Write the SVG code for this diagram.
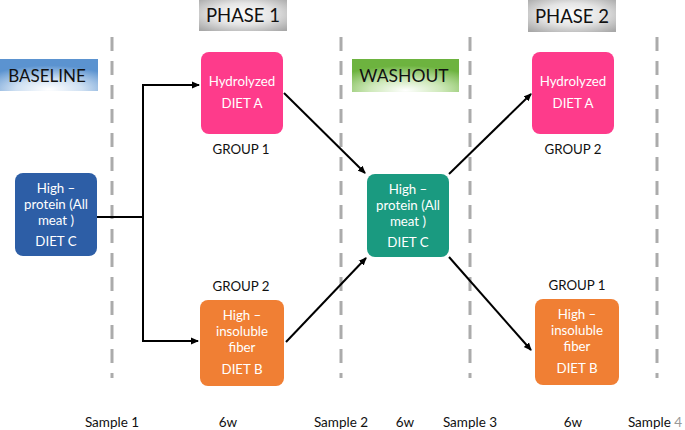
<svg xmlns="http://www.w3.org/2000/svg" width="685" height="430" viewBox="0 0 685 430">
<defs>
<radialGradient id="gGrey" cx="0.5" cy="0.45" r="0.7">
<stop offset="0" stop-color="#ffffff"/><stop offset="0.5" stop-color="#e4e4e4"/><stop offset="1" stop-color="#a8a8a8"/>
</radialGradient>
<radialGradient id="gBlue" cx="0.5" cy="0.95" r="0.75">
<stop offset="0" stop-color="#ffffff"/><stop offset="0.45" stop-color="#cfe0f2"/><stop offset="1" stop-color="#5b93d0"/>
</radialGradient>
<radialGradient id="gGreen" cx="0.5" cy="0.95" r="0.75">
<stop offset="0" stop-color="#ffffff"/><stop offset="0.45" stop-color="#cde8b8"/><stop offset="1" stop-color="#6db33f"/>
</radialGradient>
<marker id="ah" markerWidth="8" markerHeight="8" refX="7" refY="4" orient="auto" markerUnits="userSpaceOnUse">
<path d="M0,0.5 L8,4 L0,7.5 Z" fill="#000"/>
</marker>
</defs>
<style>
.dash{stroke:#ababab;stroke-width:3;stroke-dasharray:14 10;fill:none}
.conn{stroke:#000;stroke-width:2;fill:none}
.t{font-family:Lato,"Open Sans","Liberation Sans",sans-serif}
.lbl{font-size:18.5px;fill:#111;text-anchor:middle}
.bx{font-size:13.3px;fill:#fff;text-anchor:middle}
.grp{font-size:13.3px;fill:#111;text-anchor:middle}
.bot{font-size:13.5px;fill:#111;text-anchor:middle}
</style>
<rect width="685" height="430" fill="#fff"/>
<g id="dividers">
<line class="dash" x1="112" y1="37" x2="112" y2="378"/>
<line class="dash" x1="341" y1="37" x2="341" y2="378"/>
<line class="dash" x1="470" y1="37" x2="470" y2="378"/>
<line class="dash" x1="657" y1="37" x2="657" y2="378"/>
</g>
<g id="phase1"><rect x="199" y="0" width="88" height="31" fill="url(#gGrey)"/><text class="t lbl" x="243" y="22">PHASE 1</text></g>
<g id="phase2"><rect x="528" y="0" width="88" height="32" fill="url(#gGrey)"/><text class="t lbl" x="572" y="23">PHASE 2</text></g>
<g id="baseline"><rect x="0" y="59" width="98" height="32" fill="url(#gBlue)"/><text class="t lbl" x="47" y="82" style="font-size:17px">BASELINE</text></g>
<g id="washout"><rect x="352" y="59" width="107" height="33" fill="url(#gGreen)"/><text class="t lbl" x="404" y="82" style="font-size:17.5px">WASHOUT</text></g>
<g id="connectors">
<polyline class="conn" points="97,217 143,217"/>
<polyline class="conn" points="143,341 143,85 199,85" marker-end="url(#ah)"/>
<polyline class="conn" points="143,217 143,341 198,341" marker-end="url(#ah)"/>
<line class="conn" x1="284" y1="93" x2="365" y2="173" marker-end="url(#ah)"/>
<line class="conn" x1="286" y1="342" x2="366" y2="258" marker-end="url(#ah)"/>
<line class="conn" x1="449" y1="174" x2="531" y2="94" marker-end="url(#ah)"/>
<line class="conn" x1="449" y1="257" x2="531" y2="350" marker-end="url(#ah)"/>
</g>
<g id="dietC1"><rect x="15" y="173" width="82" height="83" rx="8" fill="#2d5ea6"/>
<text class="t bx" x="56" y="193">High –</text><text class="t bx" x="56" y="209">protein (All</text><text class="t bx" x="56" y="225">meat )</text><text class="t bx" x="56" y="246">DIET C</text></g>
<g id="dietA1"><rect x="201" y="52" width="82" height="82" rx="8" fill="#fe3b8b"/>
<text class="t bx" x="242" y="86">Hydrolyzed</text><text class="t bx" x="242" y="108">DIET A</text></g>
<g id="group1a"><text class="t grp" x="241" y="154">GROUP 1</text></g>
<g id="group2a"><text class="t grp" x="241" y="291">GROUP 2</text></g>
<g id="dietB1"><rect x="200" y="300" width="84" height="86" rx="8" fill="#f07f34"/>
<text class="t bx" x="242" y="320">High –</text><text class="t bx" x="242" y="336">insoluble</text><text class="t bx" x="242" y="352">fiber</text><text class="t bx" x="242" y="374">DIET B</text></g>
<g id="dietC2"><rect x="367" y="174" width="82" height="83" rx="8" fill="#1a9a80"/>
<text class="t bx" x="408" y="194">High –</text><text class="t bx" x="408" y="210">protein (All</text><text class="t bx" x="408" y="226">meat )</text><text class="t bx" x="408" y="247">DIET C</text></g>
<g id="dietA2"><rect x="532" y="52" width="82" height="82" rx="8" fill="#fe3b8b"/>
<text class="t bx" x="573" y="86">Hydrolyzed</text><text class="t bx" x="573" y="108">DIET A</text></g>
<g id="group2b"><text class="t grp" x="573" y="154">GROUP 2</text></g>
<g id="group1b"><text class="t grp" x="577" y="290">GROUP 1</text></g>
<g id="dietB2"><rect x="535" y="299" width="84" height="86" rx="8" fill="#f07f34"/>
<text class="t bx" x="577" y="319">High –</text><text class="t bx" x="577" y="335">insoluble</text><text class="t bx" x="577" y="351">fiber</text><text class="t bx" x="577" y="373">DIET B</text></g>
<g id="timeline">
<text class="t bot" x="112" y="427">Sample 1</text>
<text class="t bot" x="228" y="427">6w</text>
<text class="t bot" x="341" y="427">Sample 2</text>
<text class="t bot" x="405" y="427">6w</text>
<text class="t bot" x="470" y="427">Sample 3</text>
<text class="t bot" x="573" y="427">6w</text>
<text class="t bot" x="655" y="427">Sample <tspan fill="#999">4</tspan></text>
</g>
</svg>
